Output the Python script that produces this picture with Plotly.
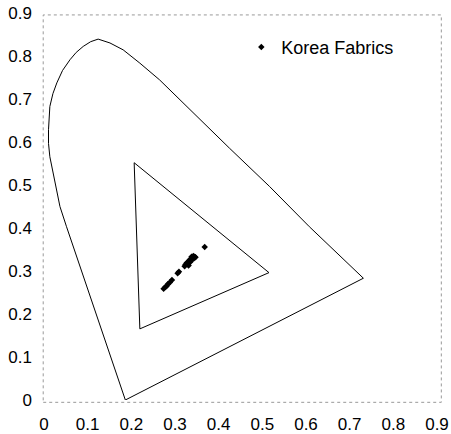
import plotly.graph_objects as go

# Spectral locus (chromaticity x, y), traced from the blue end round to the red end
locus_x = [0.1863, 0.1008, 0.0858, 0.0687, 0.0516, 0.0365, 0.0254, 0.0184, 0.0134, 0.0103,
           0.0103, 0.0134, 0.0204, 0.0294, 0.0425, 0.0596, 0.0737, 0.0898, 0.1069, 0.1240,
           0.1511, 0.1813, 0.2195, 0.2648, 0.3110, 0.3563, 0.4247, 0.5162, 0.6077,
           0.7314]
locus_y = [0.0000, 0.2562, 0.2972, 0.3471, 0.4030, 0.4499, 0.5038, 0.5368, 0.5657, 0.5967,
           0.6286, 0.6826, 0.7125, 0.7375, 0.7664, 0.7914, 0.8083, 0.8223, 0.8333, 0.8393,
           0.8303, 0.8143, 0.7834, 0.7444, 0.6985, 0.6516, 0.5857, 0.4969, 0.4030,
           0.2832]

# Inner gamut triangle vertices
tri_x = [0.2065, 0.5152, 0.2195]
tri_y = [0.5518, 0.2962, 0.1654]

# Korea Fabrics chromaticity coordinates
fab_x = [0.274, 0.278, 0.281, 0.284, 0.288, 0.293, 0.306, 0.309, 0.322, 0.324,
         0.327, 0.330, 0.333, 0.335, 0.337, 0.339, 0.341, 0.343, 0.345, 0.347,
         0.338, 0.342, 0.334, 0.331, 0.368]
fab_y = [0.259, 0.263, 0.265, 0.270, 0.273, 0.279, 0.295, 0.298, 0.311, 0.315,
         0.319, 0.317, 0.324, 0.321, 0.328, 0.326, 0.331, 0.329, 0.333, 0.332,
         0.333, 0.335, 0.327, 0.313, 0.356]

# Axis ticks
tick_vals = [0, 0.1, 0.2, 0.3, 0.4, 0.5, 0.6, 0.7, 0.8, 0.9]
tick_text = ["0", "0.1", "0.2", "0.3", "0.4", "0.5", "0.6", "0.7", "0.8", "0.9"]

fig = go.Figure()

fig.add_trace(go.Scatter(x=locus_x + [locus_x[0]], y=locus_y + [locus_y[0]],
                         mode="lines", line=dict(color="black", width=1),
                         showlegend=False, hoverinfo="skip", cliponaxis=False))
fig.add_trace(go.Scatter(x=tri_x + [tri_x[0]], y=tri_y + [tri_y[0]],
                         mode="lines", line=dict(color="black", width=1),
                         showlegend=False, hoverinfo="skip"))
fig.add_trace(go.Scatter(x=fab_x, y=fab_y, mode="markers", name="Korea Fabrics",
                         marker=dict(symbol="diamond", size=5, color="black")))

# Dotted plot-area frame, slightly wider than the axis span
fig.add_shape(type="rect", xref="paper", yref="paper", x0=-0.002, y0=-0.006, x1=1.011, y1=0.995,
              line=dict(color="#999999", width=1, dash="dot"), layer="below")

axis_common = dict(range=[0, 0.9], tickmode="array", tickvals=tick_vals, ticktext=tick_text,
                   showgrid=False, zeroline=False, showline=False, ticks="", tickangle=0,
                   ticklabeloverflow="allow", automargin=False,
                   tickfont=dict(family="Liberation Sans, Arial", size=17, color="black"))

fig.update_layout(
    width=451, height=434,
    margin=dict(l=44, r=13.5, t=13, b=34),
    paper_bgcolor="white", plot_bgcolor="white",
    xaxis=dict(**axis_common, ticklabelstandoff=12),
    yaxis=dict(**axis_common, ticklabelstandoff=11),
    showlegend=True,
    legend=dict(x=0.502, y=0.959, xanchor="left", yanchor="top",
                bgcolor="rgba(0,0,0,0)", borderwidth=0,
                font=dict(family="Liberation Sans, Arial", size=18, color="black")),
)

fig.write_html("out.html")
